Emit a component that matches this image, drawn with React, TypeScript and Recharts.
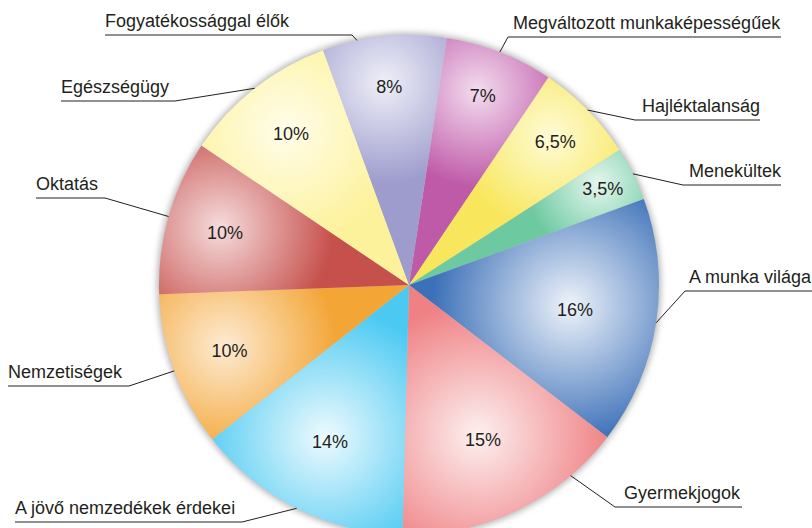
import { Cell, Pie, PieChart } from 'recharts'

const categories = [
  'Megváltozott munkaképességűek',
  'Hajléktalanság',
  'Menekültek',
  'A munka világa',
  'Gyermekjogok',
  'A jövő nemzedékek érdekei',
  'Nemzetiségek',
  'Oktatás',
  'Egészségügy',
  'Fogyatékossággal élők',
]
const shares = [7, 6.5, 3.5, 16, 15, 14, 10, 10, 10, 8]
const edgeColors = ['#bf5aa8', '#f8e75c', '#6cc9a0', '#3c70b8', '#ef8083', '#4bc9f2', '#f3a536', '#c6504c', '#fdf29c', '#9d9ccd']
const centerColors = ['#f3dcef', '#fefbd6', '#e4f6ee', '#eef3fa', '#fdf0f0', '#eefafe', '#fdebd3', '#f5dcdc', '#fffdea', '#efeff8']

const data = categories.map((name, i) => ({ name, value: shares[i] }))

// outer label placement: side, underline y, underline start/end, text x, anchor angle shift
const labelLayout = [
  { side: 'right', y: 37, x0: 508, x1: 781, tx: 513, shift: 0 },
  { side: 'right', y: 120, x0: 635, x1: 760, tx: 642, shift: 0 },
  { side: 'right', y: 185, x0: 683, x1: 781, tx: 689, shift: 0 },
  { side: 'right', y: 291, x0: 685, x1: 812, tx: 689, shift: 0 },
  { side: 'right', y: 507, x0: 615, x1: 742, tx: 624, shift: 14.8 },
  { side: 'left', y: 522, x0: 15, x1: 242, tx: 15, shift: 0 },
  { side: 'left', y: 386, x0: 8, x1: 129, tx: 8, shift: 0 },
  { side: 'left', y: 198, x0: 36, x1: 105, tx: 36, shift: 0 },
  { side: 'left', y: 101, x0: 61, x1: 175, tx: 61, shift: 0 },
  { side: 'left', y: 35, x0: 105, x1: 352, tx: 105, shift: 6.3 },
]

const CX = 404
const CY = 280
const R = 250
const START = 81.3
const RAD = Math.PI / 180
const FONT = '"Liberation Sans", Arial, sans-serif'

const labelDist = (v: number) => R * (0.92 - 0.0155 * v)

const total = shares.reduce((a, b) => a + b, 0)
const geometry = (() => {
  let acc = START
  return shares.map((v) => {
    const span = (v / total) * 360
    const mid = acc - span / 2
    acc -= span
    const d = labelDist(v)
    return {
      gx: CX + d * Math.cos(mid * RAD),
      gy: CY - d * Math.sin(mid * RAD),
      gr: Math.min(150, 45 + d * Math.sin((span / 2) * RAD) * 1.15),
    }
  })
})()

const renderLabel = (props: any) => {
  const { cx, cy, midAngle, outerRadius, index, value } = props
  const lay = labelLayout[index]
  const d = labelDist(value)
  const px = cx + d * Math.cos(midAngle * RAD)
  const py = cy - d * Math.sin(midAngle * RAD)
  const a = (midAngle + lay.shift) * RAD
  const ax = cx + outerRadius * Math.cos(a)
  const ay = cy - outerRadius * Math.sin(a)
  const ex = lay.side === 'left' ? lay.x1 : lay.x0
  const pct = String(value).replace('.', ',') + '%'
  return (
    <g>
      <text x={px} y={py} textAnchor="middle" dominantBaseline="central" fontSize={18} fill="#231f20" fontFamily={FONT}>
        {pct}
      </text>
      <path d={`M${lay.x0},${lay.y}H${lay.x1}M${ex},${lay.y}L${ax},${ay}`} stroke="#231f20" strokeWidth={1} fill="none" />
      <text x={lay.tx} y={lay.y - 8} fontSize={18} fill="#231f20" fontFamily={FONT}>
        {categories[index]}
      </text>
    </g>
  )
}

export default function App() {
  return (
    <div style={{ position: 'absolute', left: 0, top: 0, background: '#fff' }}>
      <PieChart width={812} height={528}>
        <defs>
          <filter id="pieShadow" x="-10%" y="-10%" width="120%" height="120%">
            <feGaussianBlur stdDeviation="3" />
          </filter>
          {geometry.map((g, i) => (
            <radialGradient key={i} id={`slice${i}`} gradientUnits="userSpaceOnUse" cx={g.gx} cy={g.gy} r={g.gr}>
              <stop offset="0" stopColor={centerColors[i]} />
              <stop offset="1" stopColor={edgeColors[i]} />
            </radialGradient>
          ))}
        </defs>
        <Pie
          data={data}
          dataKey="value"
          cx={CX}
          cy={CY}
          outerRadius={R + 2}
          startAngle={START}
          endAngle={START - 360}
          stroke="none"
          label={false}
          labelLine={false}
          isAnimationActive={false}
          style={{ filter: 'url(#pieShadow)' }}
        >
          {data.map((_, i) => (
            <Cell key={i} fill="#b5b5b5" />
          ))}
        </Pie>
        <Pie
          data={data}
          dataKey="value"
          cx={CX}
          cy={CY}
          outerRadius={R}
          startAngle={START}
          endAngle={START - 360}
          stroke="none"
          label={renderLabel}
          labelLine={false}
          isAnimationActive={false}
        >
          {data.map((_, i) => (
            <Cell key={i} fill={`url(#slice${i})`} />
          ))}
        </Pie>
      </PieChart>
    </div>
  )
}
